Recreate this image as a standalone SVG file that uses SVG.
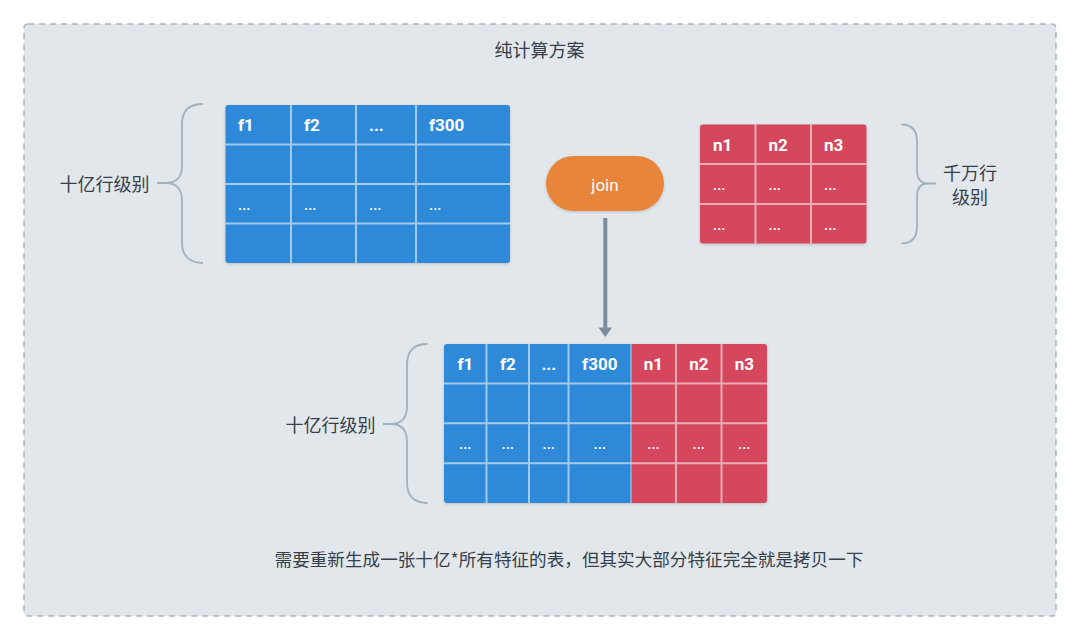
<svg xmlns="http://www.w3.org/2000/svg" width="1080" height="641" viewBox="0 0 1080 641">
<defs>
<filter id="sh" x="-10%" y="-10%" width="120%" height="125%">
<feDropShadow dx="0" dy="1" stdDeviation="1.5" flood-color="#000" flood-opacity="0.18"/>
</filter>
</defs>
<style>
.cjk{font-family:"Noto Sans CJK SC","Noto Sans",sans-serif;font-size:18px;fill:#363f49}
.hd{font-family:Roboto,"Liberation Sans",sans-serif;font-size:17px;font-weight:bold;fill:#fff}
.dt{font-family:Roboto,"Liberation Sans",sans-serif;font-size:15px;font-weight:500;fill:#fff}
.gl{stroke:#ffffff;stroke-opacity:0.55;stroke-width:2;fill:none}
.br{stroke:#a3b0bd;stroke-width:1.8;fill:none}
.blue{fill:#2d89d9}
.red{fill:#d4465c}
</style>
<rect x="24" y="24" width="1032" height="592" rx="4" fill="#e2e7ec" stroke="#a8b5c2" stroke-width="1.5" stroke-dasharray="6,5"/>
<text class="cjk" x="539.5" y="48.5" text-anchor="middle" dominant-baseline="central">纯计算方案</text>

<g id="table-billion">
<rect class="blue" x="225.5" y="105" width="284.5" height="158" rx="3" filter="url(#sh)"/>
<path class="gl" d="M291,105V263M356,105V263M416,105V263M225.5,144.5H510M225.5,184H510M225.5,223.5H510"/>
<text class="hd" x="238" y="131">f1</text>
<text class="hd" x="304" y="131">f2</text>
<text class="hd" x="369" y="131">...</text>
<text class="hd" x="429" y="131">f300</text>
<text class="dt" x="238" y="210">...</text>
<text class="dt" x="304" y="210">...</text>
<text class="dt" x="369" y="210">...</text>
<text class="dt" x="429" y="210">...</text>
</g>

<g id="brace-left">
<path class="br" d="M203,104 C190,104 182,110 182,124 L182,166 C182,177 176,183 166,183 L157,183 M166,183 C176,183 182,189 182,200 L182,243 C182,256 190,263 203,263"/>
<text class="cjk" x="104.5" y="183" text-anchor="middle" dominant-baseline="central">十亿行级别</text>
</g>

<g id="join">
<rect x="546" y="156" width="118" height="55" rx="27.5" fill="#e8853b" filter="url(#sh)"/>
<text x="605" y="191" text-anchor="middle" font-family="Roboto,'Liberation Sans',sans-serif" font-size="17" fill="#fff">join</text>
</g>

<g id="table-million">
<rect class="red" x="700" y="124.5" width="166.5" height="119" rx="3" filter="url(#sh)"/>
<path class="gl" d="M755.5,124.5V243.5M811,124.5V243.5M700,164H866.5M700,204H866.5"/>
<text class="hd" x="713" y="150.5">n1</text>
<text class="hd" x="768.5" y="150.5">n2</text>
<text class="hd" x="824" y="150.5">n3</text>
<text class="dt" x="713" y="190">...</text>
<text class="dt" x="768.5" y="190">...</text>
<text class="dt" x="824" y="190">...</text>
<text class="dt" x="713" y="230">...</text>
<text class="dt" x="768.5" y="230">...</text>
<text class="dt" x="824" y="230">...</text>
</g>

<g id="brace-right">
<path class="br" d="M901.5,124.5 C911,124.5 917,130 917,142 L917,170 C917,179 921,183.5 928,183.5 L936,183.5 M928,183.5 C921,183.5 917,188 917,197 L917,226 C917,238 911,243.5 901.5,243.5"/>
<text class="cjk" x="970" y="171.5" text-anchor="middle" dominant-baseline="central">千万行</text>
<text class="cjk" x="970" y="195.5" text-anchor="middle" dominant-baseline="central">级别</text>
</g>

<g id="connectors">
<line x1="605.3" y1="218" x2="605.3" y2="329" stroke="#7c8c9b" stroke-width="4"/>
<path d="M598.5,327.5 L612,327.5 L605.3,337 Z" fill="#7c8c9b"/>
</g>

<g id="table-joined">
<g filter="url(#sh)">
<path class="blue" d="M447,344H631V503H447A3,3 0 0 1 444,500V347A3,3 0 0 1 447,344Z"/>
<path class="red" d="M631,344H764A3,3 0 0 1 767,347V500A3,3 0 0 1 764,503H631Z"/>
</g>
<path class="gl" d="M486.5,344V503M529,344V503M568.5,344V503M676,344V503M721.5,344V503M444,383.5H767M444,423.3H767M444,463.3H767"/>
<path d="M631,344V503" stroke="#c7d6e6" stroke-opacity="0.6" stroke-width="1.5"/>
<g text-anchor="middle">
<text class="hd" x="465.3" y="370">f1</text>
<text class="hd" x="507.8" y="370">f2</text>
<text class="hd" x="548.8" y="370">...</text>
<text class="hd" x="599.8" y="370">f300</text>
<text class="hd" x="653.5" y="370">n1</text>
<text class="hd" x="698.8" y="370">n2</text>
<text class="hd" x="744.3" y="370">n3</text>
<text class="dt" x="465.3" y="449">...</text>
<text class="dt" x="507.8" y="449">...</text>
<text class="dt" x="548.8" y="449">...</text>
<text class="dt" x="599.8" y="449">...</text>
<text class="dt" x="653.5" y="449">...</text>
<text class="dt" x="698.8" y="449">...</text>
<text class="dt" x="744.3" y="449">...</text>
</g>
</g>

<g id="brace-bottom">
<path class="br" d="M427.5,344 C414,344 407,351 407,365 L407,406 C407,418 401,424 391,424 L383,424 M391,424 C401,424 407,430 407,442 L407,482 C407,496 414,503 427.5,503"/>
<text class="cjk" x="330.5" y="424" text-anchor="middle" dominant-baseline="central">十亿行级别</text>
</g>

<text class="cjk" x="569" y="558" text-anchor="middle" dominant-baseline="central" style="font-size:17.6px">需要重新生成一张十亿*所有特征的表，但其实大部分特征完全就是拷贝一下</text>
</svg>
